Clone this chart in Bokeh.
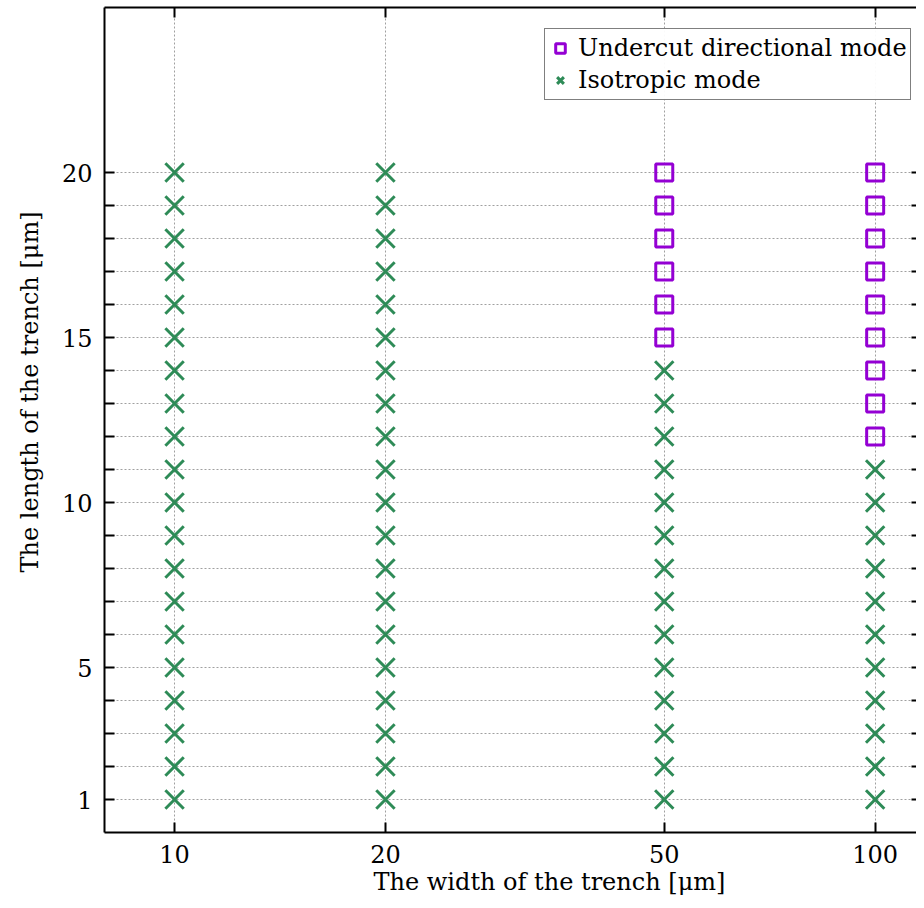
from bokeh.plotting import figure
from bokeh.models import FixedTicker, LogAxis, LinearAxis, Legend, LegendItem, Title
from bokeh.embed import file_html
from bokeh.resources import INLINE

# ---- data ----
widths_iso = [10, 10, 10, 10, 10, 10, 10, 10, 10, 10, 10, 10, 10, 10, 10, 10, 10, 10, 10, 10,
              20, 20, 20, 20, 20, 20, 20, 20, 20, 20, 20, 20, 20, 20, 20, 20, 20, 20, 20, 20,
              50, 50, 50, 50, 50, 50, 50, 50, 50, 50, 50, 50, 50, 50,
              100, 100, 100, 100, 100, 100, 100, 100, 100, 100, 100]
lengths_iso = [1, 2, 3, 4, 5, 6, 7, 8, 9, 10, 11, 12, 13, 14, 15, 16, 17, 18, 19, 20,
               1, 2, 3, 4, 5, 6, 7, 8, 9, 10, 11, 12, 13, 14, 15, 16, 17, 18, 19, 20,
               1, 2, 3, 4, 5, 6, 7, 8, 9, 10, 11, 12, 13, 14,
               1, 2, 3, 4, 5, 6, 7, 8, 9, 10, 11]
widths_und = [50, 50, 50, 50, 50, 50,
              100, 100, 100, 100, 100, 100, 100, 100, 100]
lengths_und = [15, 16, 17, 18, 19, 20,
               12, 13, 14, 15, 16, 17, 18, 19, 20]
x_ticks = [10, 20, 50, 100]
x_tick_labels = {10: "10", 20: "20", 50: "50", 100: "100"}
y_grid_values = [1, 2, 3, 4, 5, 6, 7, 8, 9, 10, 11, 12, 13, 14, 15, 16, 17, 18, 19, 20]
y_labeled_ticks = [1, 5, 10, 15, 20]
y_unlabeled_ticks = [2, 3, 4, 6, 7, 8, 9, 11, 12, 13, 14, 16, 17, 18, 19]

FONT = "DejaVu Serif"
GREEN = "#2e8b57"
PURPLE = "#9400d3"

p = figure(width=916, height=900, output_backend="svg", toolbar_location=None,
           x_axis_type="log", x_range=(10 ** 0.9, 10 ** 2.059), y_range=(0, 25),
           min_border_left=104, min_border_right=0, min_border_top=7, min_border_bottom=68,
           x_axis_location=None, y_axis_location=None)
p.outline_line_color = None
p.title.visible = False

xt = FixedTicker(ticks=x_ticks, minor_ticks=[])
yt_left = FixedTicker(ticks=y_labeled_ticks, minor_ticks=y_unlabeled_ticks)
yt_all = FixedTicker(ticks=y_grid_values, minor_ticks=[])

def style(ax, labels=True):
    ax.axis_line_width = 2
    ax.axis_line_color = "black"
    ax.major_tick_line_width = 2
    ax.major_tick_in = 10
    ax.major_tick_out = 0
    ax.minor_tick_line_width = 2
    ax.minor_tick_in = 10
    ax.minor_tick_out = 0
    ax.major_label_text_font = FONT
    ax.major_label_text_font_size = "24px"
    ax.major_label_text_color = "black" if labels else None

bx = LogAxis(ticker=xt)
style(bx)
bx.major_label_standoff = 12
bx.major_label_overrides = x_tick_labels
p.add_layout(bx, "below")

tx = LogAxis(ticker=xt)
style(tx, labels=False)
p.add_layout(tx, "above")

ly = LinearAxis(ticker=yt_left)
style(ly)
ly.major_label_standoff = 12
p.add_layout(ly, "left")

ry = LinearAxis(ticker=yt_all)
style(ry, labels=False)
ry.axis_line_color = None
ry.major_tick_in = 5
p.add_layout(ry, "right")

p.xgrid.ticker = xt
p.ygrid.ticker = yt_all
for g in (p.xgrid, p.ygrid):
    g.grid_line_color = "#a0a0a0"
    g.grid_line_dash = "2 2"
    g.grid_line_width = 1

r_und = p.scatter(widths_und, lengths_und, marker="square", size=17,
                  fill_color=None, line_color=PURPLE, line_width=3)
r_iso = p.scatter(widths_iso, lengths_iso, marker="x", size=26,
                  line_color=GREEN, line_width=3)

legend = Legend(items=[LegendItem(label="Undercut directional mode", renderers=[r_und]),
                       LegendItem(label="Isotropic mode", renderers=[r_iso])],
                location=(440, 732))
legend.label_text_font = FONT
legend.label_text_font_size = "24px"
legend.label_text_color = "black"
legend.border_line_color = "black"
legend.border_line_width = 1.5
legend.spacing = 0
legend.padding = 3
legend.margin = 0
legend.glyph_width = 24
legend.glyph_height = 32
legend.label_height = 32
legend.label_standoff = 6
p.add_layout(legend, "center")

xlabel = Title(text="The width of the trench [\u03bcm]", align="left", offset=269,
               vertical_align="middle", standoff=2,
               text_font=FONT, text_font_size="24px", text_font_style="normal",
               text_color="black")
p.add_layout(xlabel, "below")

ylabel = Title(text="The length of the trench [\u03bcm]", align="left", offset=260,
               vertical_align="middle", standoff=28,
               text_font=FONT, text_font_size="24px", text_font_style="normal",
               text_color="black")
p.add_layout(ylabel, "left")

open("out.html", "w").write(file_html(p, INLINE))
